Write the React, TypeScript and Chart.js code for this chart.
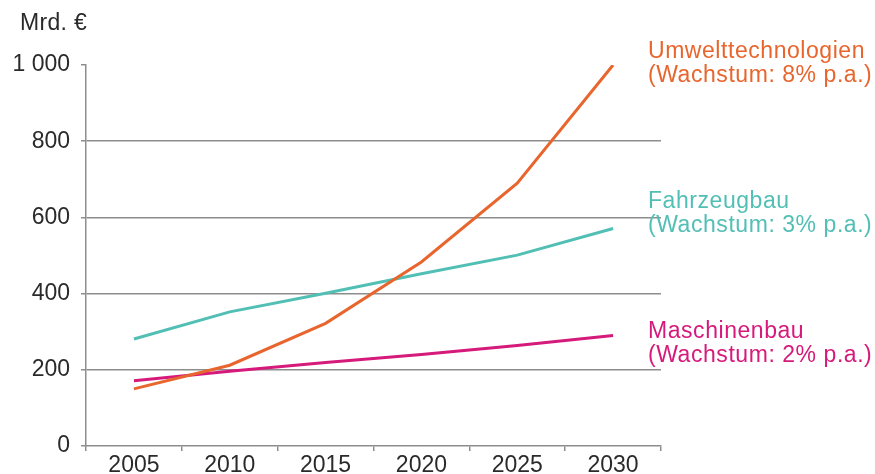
import React, { useEffect, useRef } from 'react';
import { Chart, registerables } from 'chart.js';

Chart.register(...registerables);

const years = ['2005', '2010', '2015', '2020', '2025', '2030'];
const umwelt = [150, 212, 322, 483, 690, 1000];
const fahrzeug = [281, 352, 401, 452, 501, 571];
const maschinen = [171, 196, 219, 240, 264, 290];
const yTicks = [0, 200, 400, 600, 800, 1000];
const unitLabel = 'Mrd. €';
const seriesNames = [
  ['Umwelttechnologien', '(Wachstum: 8% p.a.)'],
  ['Fahrzeugbau', '(Wachstum: 3% p.a.)'],
  ['Maschinenbau', '(Wachstum: 2% p.a.)'],
];

const FONT = '"Liberation Sans", Arial, Helvetica, sans-serif';
const ORANGE = '#E8652D';
const TEAL = '#52BFB5';
const MAGENTA = '#D61A7C';
const GRID = '#8d8d8d';

const textPlugin = {
  id: 'textPlugin',
  afterDraw(chart: any) {
    const ctx = chart.ctx;
    ctx.save();
    ctx.textAlign = 'left';
    ctx.textBaseline = 'alphabetic';
    ctx.font = `23px ${FONT}`;
    ctx.fillStyle = '#2a2a2a';
    try { (ctx as any).letterSpacing = '0.3px'; } catch (e) {}
    ctx.fillText(unitLabel, 20, 30);
    try { (ctx as any).letterSpacing = '0.55px'; } catch (e) {}
    const colors = [ORANGE, TEAL, MAGENTA];
    const baselines = [58, 208, 338];
    seriesNames.forEach((lines, i) => {
      ctx.fillStyle = colors[i];
      lines.forEach((t, j) => {
        ctx.fillText(t, 648, baselines[i] + j * 24);
      });
    });
    ctx.restore();
  },
};

export default function App() {
  const ref = useRef<HTMLCanvasElement>(null);
  useEffect(() => {
    if (!ref.current) return;
    const chart = new Chart(ref.current, {
      type: 'line',
      data: {
        labels: years,
        datasets: [
          { label: 'Umwelttechnologien', data: umwelt, borderColor: ORANGE, backgroundColor: ORANGE, borderWidth: 3, pointRadius: 0, tension: 0 },
          { label: 'Fahrzeugbau', data: fahrzeug, borderColor: TEAL, backgroundColor: TEAL, borderWidth: 3, pointRadius: 0, tension: 0 },
          { label: 'Maschinenbau', data: maschinen, borderColor: MAGENTA, backgroundColor: MAGENTA, borderWidth: 3, pointRadius: 0, tension: 0 },
        ],
      },
      options: {
        animation: false,
        responsive: true,
        maintainAspectRatio: false,
        layout: { padding: { top: 65, right: 214, left: 0, bottom: 0 } },
        plugins: { legend: { display: false }, tooltip: { enabled: false }, title: { display: false } },
        scales: {
          x: {
            type: 'category',
            offset: true,
            grid: { offset: true, drawOnChartArea: false, drawTicks: true, tickLength: 5, tickColor: GRID, lineWidth: 1.5 },
            border: { color: GRID, width: 1.5 },
            ticks: { color: '#2a2a2a', font: { family: FONT, size: 23 }, padding: 1, maxRotation: 0, autoSkip: false },
            afterFit(scale: any) { scale.height = 28; },
          },
          y: {
            min: 0,
            max: 1000,
            afterBuildTicks(scale: any) { scale.ticks = yTicks.map((v) => ({ value: v })); },
            grid: {
              color: (c: any) => (c.tick && (c.tick.value === 1000 || c.tick.value === 0) ? 'rgba(0,0,0,0)' : GRID),
              tickColor: GRID,
              lineWidth: 1.5,
              drawTicks: true,
              tickLength: 5,
            },
            border: { color: GRID, width: 1.5 },
            ticks: {
              color: '#2a2a2a',
              font: { family: FONT, size: 23 },
              padding: 11,
              callback: (v: any) => (v >= 1000 ? String(v).replace(/(\d)(\d{3})$/, '$1 $2') : String(v)),
            },
            afterFit(scale: any) { scale.width = 86; },
          },
        },
      },
      plugins: [textPlugin],
    });
    return () => chart.destroy();
  }, []);
  return (
    <div style={{ position: 'fixed', left: 0, top: 0, width: 875, height: 474, background: '#fff' }}>
      <canvas ref={ref} />
    </div>
  );
}
